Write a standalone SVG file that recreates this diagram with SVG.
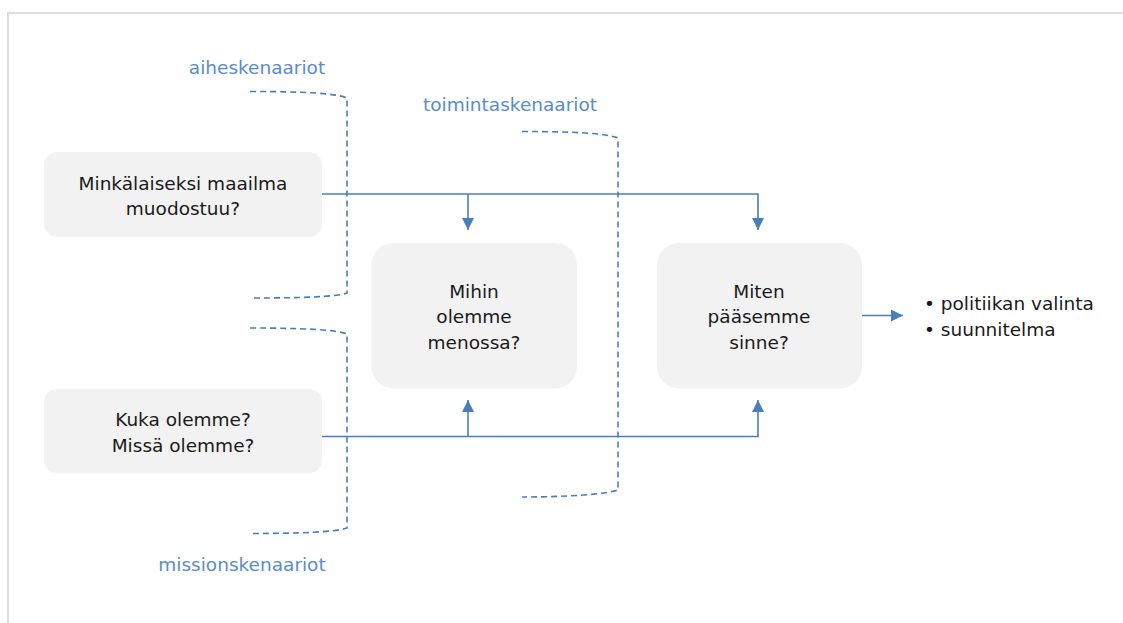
<svg xmlns="http://www.w3.org/2000/svg" width="1123" height="623" viewBox="0 0 1123 623">
  <style>
    .box { fill: #f2f2f2; }
    .txt { font-family: "DejaVu Sans", "Liberation Sans", sans-serif; font-size: 18.5px; fill: #1a1a1a; text-anchor: middle; }
    .lbl { font-family: "DejaVu Sans", "Liberation Sans", sans-serif; font-size: 18.5px; fill: #5b8cc9; text-anchor: middle; }
    .bul { font-family: "DejaVu Sans", "Liberation Sans", sans-serif; font-size: 18.5px; fill: #1a1a1a; }
    .flow { fill: none; stroke: #4a7ebb; stroke-width: 1.6; }
    .brace { fill: none; stroke: #4a7ebb; stroke-width: 1.6; stroke-dasharray: 6 4; }
  </style>
  <defs>
    <marker id="arrow" viewBox="0 0 12 12" refX="12" refY="6" markerWidth="12" markerHeight="12" markerUnits="userSpaceOnUse" orient="auto">
      <path d="M0,0 L12,6 L0,12 Z" fill="#4a7ebb"/>
    </marker>
  </defs>

  <!-- outer frame -->
  <rect x="8" y="13" width="1130" height="630" fill="none" stroke="#dcdcdc" stroke-width="2"/>

  <!-- scenario brackets and their labels -->
  <g id="aiheskenaariot">
    <text class="lbl" x="257" y="74">aiheskenaariot</text>
    <path class="brace" d="M250,91.5 C300,91.5 336,93 347,98 V293 C336,297 300,298 250,298"/>
  </g>
  <g id="missionskenaariot">
    <path class="brace" d="M250,328 C300,328 336,329.5 347,334 V528 C336,532 300,533.5 250,533.5"/>
    <text class="lbl" x="242" y="570.5">missionskenaariot</text>
  </g>
  <g id="toimintaskenaariot">
    <text class="lbl" x="510" y="110.5">toimintaskenaariot</text>
    <path class="brace" d="M522,131.5 C570,131.5 606,133 618,138 V490 C606,494 570,497 522,497"/>
  </g>

  <!-- connectors -->
  <g id="connectors">
    <path class="flow" d="M322,194 H758 V230" marker-end="url(#arrow)"/>
    <path class="flow" d="M468,194 V230" marker-end="url(#arrow)"/>
    <path class="flow" d="M322,436.5 H758 V400" marker-end="url(#arrow)"/>
    <path class="flow" d="M468,436.5 V400" marker-end="url(#arrow)"/>
    <path class="flow" d="M862,315.5 H903" marker-end="url(#arrow)"/>
  </g>

  <!-- nodes -->
  <g id="node-maailma">
    <rect class="box" x="44" y="152" width="278" height="85" rx="13"/>
    <text class="txt" x="183" y="190">Minkälaiseksi maailma</text>
    <text class="txt" x="183" y="215">muodostuu?</text>
  </g>
  <g id="node-kuka">
    <rect class="box" x="44" y="389" width="278" height="84" rx="13"/>
    <text class="txt" x="183" y="426">Kuka olemme?</text>
    <text class="txt" x="183" y="451.5">Missä olemme?</text>
  </g>
  <g id="node-mihin">
    <rect class="box" x="371.5" y="243" width="205.5" height="145.5" rx="22"/>
    <text class="txt" x="474" y="298">Mihin</text>
    <text class="txt" x="474" y="323">olemme</text>
    <text class="txt" x="474" y="349">menossa?</text>
  </g>
  <g id="node-miten">
    <rect class="box" x="657" y="243" width="205" height="145.5" rx="22"/>
    <text class="txt" x="759" y="298">Miten</text>
    <text class="txt" x="759" y="323">pääsemme</text>
    <text class="txt" x="759" y="349">sinne?</text>
  </g>
  <g id="node-tulos">
    <text class="bul" x="924" y="310">• politiikan valinta</text>
    <text class="bul" x="924" y="336">• suunnitelma</text>
  </g>
</svg>
